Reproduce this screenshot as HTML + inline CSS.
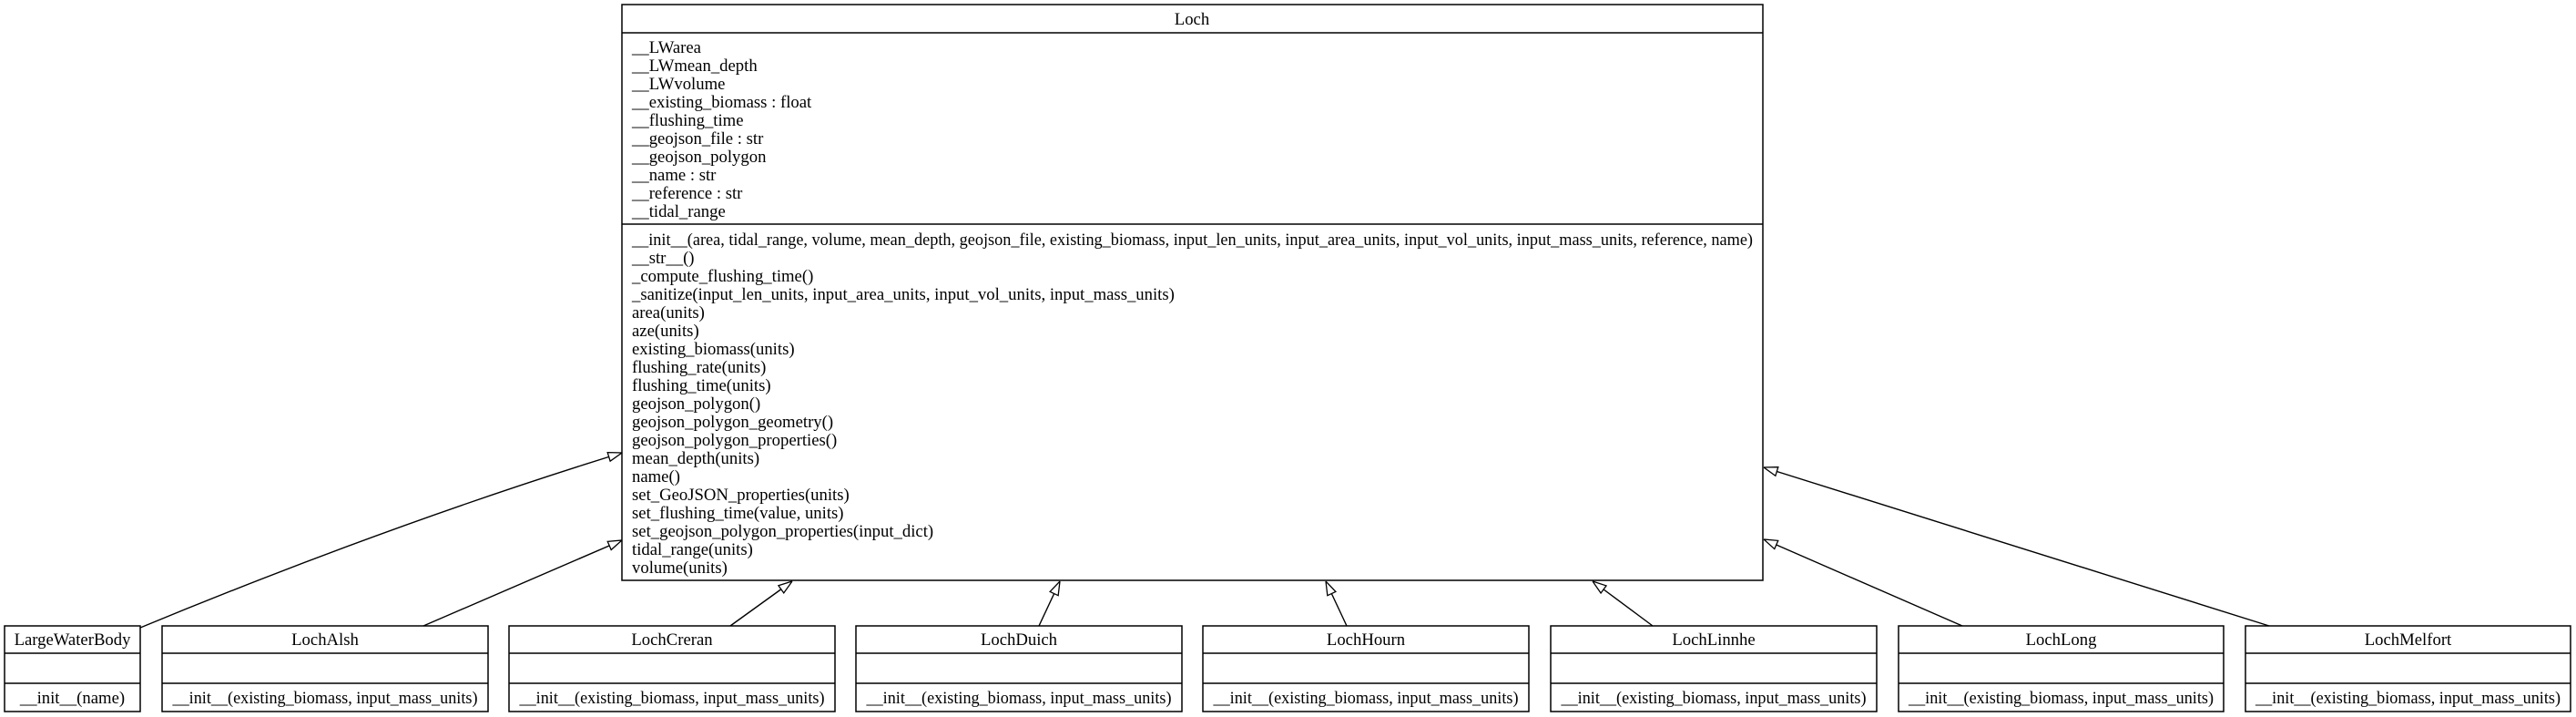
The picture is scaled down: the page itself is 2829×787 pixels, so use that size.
<!DOCTYPE html>
<html><head><meta charset="utf-8"><style>
html,body{margin:0;padding:0;background:#fff;}
svg{display:block;}
text{font-family:"Liberation Serif",serif;font-size:18.7px;fill:#000;}
</style></head><body>
<svg width="2829" height="787" viewBox="0 0 2829 787" xmlns="http://www.w3.org/2000/svg">
<g fill="none" stroke="#000" stroke-width="1.5">
<rect x="683" y="5" width="1253" height="632"/>
<line x1="683" y1="36" x2="1936" y2="36"/>
<line x1="683" y1="246" x2="1936" y2="246"/>
</g>
<text x="1309" y="27" text-anchor="middle">Loch</text>
<g>
<text x="694" y="58">__LWarea</text>
<text x="694" y="78">__LWmean_depth</text>
<text x="694" y="98">__LWvolume</text>
<text x="694" y="118">__existing_biomass : float</text>
<text x="694" y="138">__flushing_time</text>
<text x="694" y="158">__geojson_file : str</text>
<text x="694" y="178">__geojson_polygon</text>
<text x="694" y="198">__name : str</text>
<text x="694" y="218">__reference : str</text>
<text x="694" y="238">__tidal_range</text>
<text x="694" y="269" textLength="1231" lengthAdjust="spacingAndGlyphs">__init__(area, tidal_range, volume, mean_depth, geojson_file, existing_biomass, input_len_units, input_area_units, input_vol_units, input_mass_units, reference, name)</text>
<text x="694" y="289">__str__()</text>
<text x="694" y="309">_compute_flushing_time()</text>
<text x="694" y="329">_sanitize(input_len_units, input_area_units, input_vol_units, input_mass_units)</text>
<text x="694" y="349">area(units)</text>
<text x="694" y="369">aze(units)</text>
<text x="694" y="389">existing_biomass(units)</text>
<text x="694" y="409">flushing_rate(units)</text>
<text x="694" y="429">flushing_time(units)</text>
<text x="694" y="449">geojson_polygon()</text>
<text x="694" y="469">geojson_polygon_geometry()</text>
<text x="694" y="489">geojson_polygon_properties()</text>
<text x="694" y="509">mean_depth(units)</text>
<text x="694" y="529">name()</text>
<text x="694" y="549">set_GeoJSON_properties(units)</text>
<text x="694" y="569">set_flushing_time(value, units)</text>
<text x="694" y="589">set_geojson_polygon_properties(input_dict)</text>
<text x="694" y="609">tidal_range(units)</text>
<text x="694" y="629">volume(units)</text>
</g>

<g fill="none" stroke="#000" stroke-width="1.5">
<rect x="5" y="687" width="149" height="94"/><line x1="5" y1="717" x2="154" y2="717"/><line x1="5" y1="750" x2="154" y2="750"/>
<rect x="178" y="687" width="358" height="94"/><line x1="178" y1="717" x2="536" y2="717"/><line x1="178" y1="750" x2="536" y2="750"/>
<rect x="559" y="687" width="358" height="94"/><line x1="559" y1="717" x2="917" y2="717"/><line x1="559" y1="750" x2="917" y2="750"/>
<rect x="940" y="687" width="358" height="94"/><line x1="940" y1="717" x2="1298" y2="717"/><line x1="940" y1="750" x2="1298" y2="750"/>
<rect x="1321" y="687" width="358" height="94"/><line x1="1321" y1="717" x2="1679" y2="717"/><line x1="1321" y1="750" x2="1679" y2="750"/>
<rect x="1703" y="687" width="358" height="94"/><line x1="1703" y1="717" x2="2061" y2="717"/><line x1="1703" y1="750" x2="2061" y2="750"/>
<rect x="2085" y="687" width="357" height="94"/><line x1="2085" y1="717" x2="2442" y2="717"/><line x1="2085" y1="750" x2="2442" y2="750"/>
<rect x="2466" y="687" width="357" height="94"/><line x1="2466" y1="717" x2="2823" y2="717"/><line x1="2466" y1="750" x2="2823" y2="750"/>
</g>
<g text-anchor="middle">
<text x="79.5" y="708">LargeWaterBody</text>
<text x="79.5" y="772">__init__(name)</text>
<text x="357" y="708">LochAlsh</text>
<text x="357" y="772" textLength="335" lengthAdjust="spacingAndGlyphs">__init__(existing_biomass, input_mass_units)</text>
<text x="738" y="708">LochCreran</text>
<text x="738" y="772" textLength="335" lengthAdjust="spacingAndGlyphs">__init__(existing_biomass, input_mass_units)</text>
<text x="1119" y="708">LochDuich</text>
<text x="1119" y="772" textLength="335" lengthAdjust="spacingAndGlyphs">__init__(existing_biomass, input_mass_units)</text>
<text x="1500" y="708">LochHourn</text>
<text x="1500" y="772" textLength="335" lengthAdjust="spacingAndGlyphs">__init__(existing_biomass, input_mass_units)</text>
<text x="1882" y="708">LochLinnhe</text>
<text x="1882" y="772" textLength="335" lengthAdjust="spacingAndGlyphs">__init__(existing_biomass, input_mass_units)</text>
<text x="2263.5" y="708">LochLong</text>
<text x="2263.5" y="772" textLength="335" lengthAdjust="spacingAndGlyphs">__init__(existing_biomass, input_mass_units)</text>
<text x="2644.5" y="708">LochMelfort</text>
<text x="2644.5" y="772" textLength="335" lengthAdjust="spacingAndGlyphs">__init__(existing_biomass, input_mass_units)</text>
</g>

<defs>
<marker id="tri" viewBox="0 0 16 12" refX="16" refY="6" markerWidth="16" markerHeight="12" markerUnits="userSpaceOnUse" orient="auto">
<path d="M1,1 L16,6 L1,11 Z" fill="#fff" stroke="#000" stroke-width="1.3"/>
</marker>
</defs>
<g fill="none" stroke="#000" stroke-width="1.4" marker-end="url(#tri)">
<path d="M154,689 Q430,575 683,497"/>
<path d="M465,687 L683,593"/>
<path d="M802,687 L870,638"/>
<path d="M1141,687 L1164,638"/>
<path d="M1479,687 L1456,638"/>
<path d="M1815,687 L1749,638"/>
<path d="M2155,687 L1937,592"/>
<path d="M2492,687 L1937,513"/>
</g>
</svg>
</body></html>
